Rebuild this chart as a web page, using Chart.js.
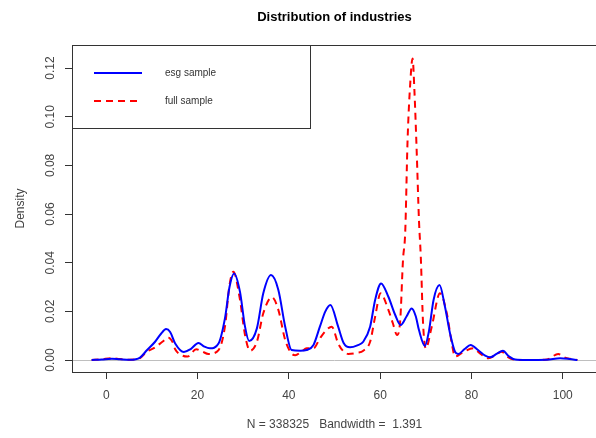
<!DOCTYPE html>
<html>
<head>
<meta charset="utf-8">
<script src="https://cdn.jsdelivr.net/npm/chart.js@4.4.1/dist/chart.umd.min.js"></script>
<style>
  html, body { margin: 0; padding: 0; background: #fff; overflow: hidden; }
</style>
</head>
<body>
<canvas id="density" width="600" height="438"></canvas>
<script>
// esg sample (solid blue)
const esgX = [-3.2, -1, 1.2, 3, 5.2, 7.4, 8.9, 10.7, 12, 13.1, 14, 15.1, 17, 18.5, 20.2, 21.5, 22.7, 24.6,
  26, 27, 28, 29.3, 30.4, 31.3, 33, 34.4, 36.1, 37.7, 39.2, 40.6, 42.5, 43.9, 45.4, 46.8, 48, 49.1,
  50.8, 52, 53.4, 55, 56.3, 57.8, 58.9, 60.2, 61.8, 63.3, 64.5, 65.8, 66.9, 67.8, 68.5, 69.8, 70.7,
  71.7, 73, 74.2, 75.3, 76.4, 77.1, 78.5, 79.8, 81.5, 83, 84.1, 85.5, 86.9, 88.2, 89.6, 92, 96.5,
  99.4, 101.5, 103.2];
const esgY = [0, 0.0002, 0.0005, 0.0003, 0.0001, 0.001, 0.004, 0.0075, 0.0108, 0.0127, 0.0115, 0.0068,
  0.0033, 0.0045, 0.007, 0.0055, 0.0048, 0.0068, 0.0171, 0.030, 0.0356, 0.028, 0.0137, 0.0078, 0.013,
  0.0274, 0.0349, 0.0288, 0.0137, 0.0041, 0.0038, 0.0041, 0.0062, 0.0137, 0.020, 0.0226, 0.0137, 0.007,
  0.0052, 0.006, 0.0075, 0.0137, 0.0247, 0.0315, 0.026, 0.0185, 0.0144, 0.018, 0.0212, 0.018, 0.0123,
  0.0058, 0.012, 0.0247, 0.0308, 0.0219, 0.011, 0.0034, 0.0025, 0.0045, 0.0062, 0.004, 0.0018, 0.0011,
  0.0025, 0.0038, 0.0015, 0.0002, 0, 0.0001, 0.0007, 0.0004, 0];

// full sample (dashed red)
const fullX = [-3.2, -1, 1.2, 3, 5.2, 7.4, 8.9, 10.7, 12.3, 13.6, 14.5, 15.1, 16.5, 17.8, 19.7, 21, 22.4,
  24.6, 26, 27, 27.85, 29.3, 30.4, 31.5, 33, 34.4, 36.3, 37.7, 39.2, 40.6, 41.4, 42.8, 43.9, 45.4, 46.8,
  48.3, 49.4, 50.8, 52, 53, 55, 56.3, 57.8, 58.9, 60.1, 61.8, 62.8, 63.7, 64.4, 65, 65.5, 66, 66.6, 67.1,
  67.5, 68, 68.5, 68.9, 69.4, 70, 71.3, 73.1, 74.6, 75.7, 76.4, 78, 80.4, 82, 83.7, 85.2, 86.6, 88, 89.6,
  92, 96.5, 99, 100.5, 103.2];
const fullY = [0, 0.0003, 0.0007, 0.0004, 0.0001, 0.0008, 0.0034, 0.0052, 0.0075, 0.0092, 0.0075, 0.0044,
  0.002, 0.0014, 0.0044, 0.0035, 0.0025, 0.0041, 0.0137, 0.0308, 0.0363, 0.0247, 0.0103, 0.0038, 0.0075,
  0.0192, 0.0258, 0.0206, 0.0082, 0.0027, 0.002, 0.0035, 0.0048, 0.0048, 0.0089, 0.0125, 0.0137, 0.0068,
  0.0035, 0.0025, 0.003, 0.0038, 0.0075, 0.0178, 0.0274, 0.0206, 0.015, 0.0103, 0.0164, 0.041, 0.053,
  0.090, 0.114, 0.124, 0.111, 0.086, 0.0575, 0.0425, 0.015, 0.0048, 0.0137, 0.0274, 0.0192, 0.0068,
  0.0014, 0.003, 0.0048, 0.0025, 0.0007, 0.002, 0.0034, 0.0012, 0.0001, 0, 0.0002, 0.0025, 0.001, 0];

const seriesNames = ['esg sample', 'full sample'];
const chartTitle = 'Distribution of industries';
const xTitle = 'N = 338325   Bandwidth =  1.391';

const FONT = '"Liberation Sans", Arial, sans-serif';
const INK = '#333';
const LABEL = '#444';

function toPoints(xs, ys) {
  return xs.map((x, i) => ({ x: x, y: ys[i] }));
}

// box, zero line, title and legend like R's plot()
const rFrame = {
  id: 'rFrame',
  beforeDatasetsDraw(chart) {
    const { ctx, chartArea: a, scales } = chart;
    const y0 = Math.round(scales.y.getPixelForValue(0)) + 0.5;
    ctx.save();
    ctx.strokeStyle = '#bebebe';
    ctx.lineWidth = 1;
    ctx.beginPath();
    ctx.moveTo(a.left, y0);
    ctx.lineTo(a.right, y0);
    ctx.stroke();
    ctx.restore();
  },
  afterDraw(chart) {
    const { ctx, chartArea: a } = chart;
    ctx.save();
    ctx.strokeStyle = INK;
    ctx.lineWidth = 1;
    ctx.strokeRect(a.left + 0.5, a.top + 0.5, a.right - a.left, a.bottom - a.top);

    ctx.fillStyle = '#000';
    ctx.font = 'bold 13px ' + FONT;
    ctx.textAlign = 'center';
    ctx.textBaseline = 'middle';
    ctx.fillText(chartTitle, (a.left + a.right) / 2, 17);

    // legend box
    ctx.fillStyle = '#fff';
    ctx.fillRect(a.left + 0.5, a.top + 0.5, 238, 83);
    ctx.strokeRect(a.left + 0.5, a.top + 0.5, 238, 83);
    ctx.font = '10px ' + FONT;
    ctx.textAlign = 'left';
    chart.data.datasets.forEach((ds, i) => {
      const y = a.top + 28 + i * 28;
      ctx.strokeStyle = ds.borderColor;
      ctx.lineWidth = ds.borderWidth;
      ctx.setLineDash(ds.borderDash || []);
      ctx.beginPath();
      ctx.moveTo(a.left + 22, y);
      ctx.lineTo(a.left + 70, y);
      ctx.stroke();
      ctx.setLineDash([]);
      ctx.fillStyle = INK;
      ctx.fillText(ds.label, a.left + 93, y);
    });
    ctx.restore();
  }
};

new Chart(document.getElementById('density'), {
  type: 'line',
  data: {
    datasets: [{
      label: seriesNames[0],
      data: toPoints(esgX, esgY),
      borderColor: '#0000ff',
      borderWidth: 2,
      pointRadius: 0,
      cubicInterpolationMode: 'monotone',
      fill: false
    }, {
      label: seriesNames[1],
      data: toPoints(fullX, fullY),
      borderColor: '#ff0000',
      borderWidth: 2,
      borderDash: [7, 5],
      pointRadius: 0,
      cubicInterpolationMode: 'monotone',
      fill: false
    }]
  },
  options: {
    responsive: false,
    animation: false,
    layout: { padding: { top: 45, right: 3, left: 0, bottom: 0 } },
    plugins: {
      legend: { display: false },
      title: { display: false },
      tooltip: { enabled: false }
    },
    scales: {
      x: {
        type: 'linear',
        min: -7.5,
        max: 107.5,
        afterFit: s => { s.height = 66; },
        border: { display: false },
        grid: { drawOnChartArea: false, tickLength: 7, tickColor: INK },
        ticks: {
          stepSize: 20,
          includeBounds: false,
          padding: 9,
          color: LABEL,
          font: { family: FONT, size: 12 },
          maxRotation: 0
        },
        title: {
          display: true,
          text: xTitle,
          color: LABEL,
          font: { family: FONT, size: 12 },
          padding: { top: 0, bottom: 6 }
        }
      },
      y: {
        min: -0.00493,
        max: 0.1295,
        afterFit: s => { s.width = 72; },
        border: { display: false },
        grid: { drawOnChartArea: false, tickLength: 7, tickColor: INK },
        ticks: {
          stepSize: 0.02,
          includeBounds: false,
          minRotation: 90,
          maxRotation: 90,
          crossAlign: 'center',
          padding: 3,
          color: LABEL,
          font: { family: FONT, size: 12 },
          callback: v => v.toFixed(2)
        },
        title: {
          display: true,
          text: 'Density',
          color: LABEL,
          font: { family: FONT, size: 12 },
          padding: { top: 13, bottom: 0 }
        }
      }
    }
  },
  plugins: [rFrame]
});
</script>
</body>
</html>
